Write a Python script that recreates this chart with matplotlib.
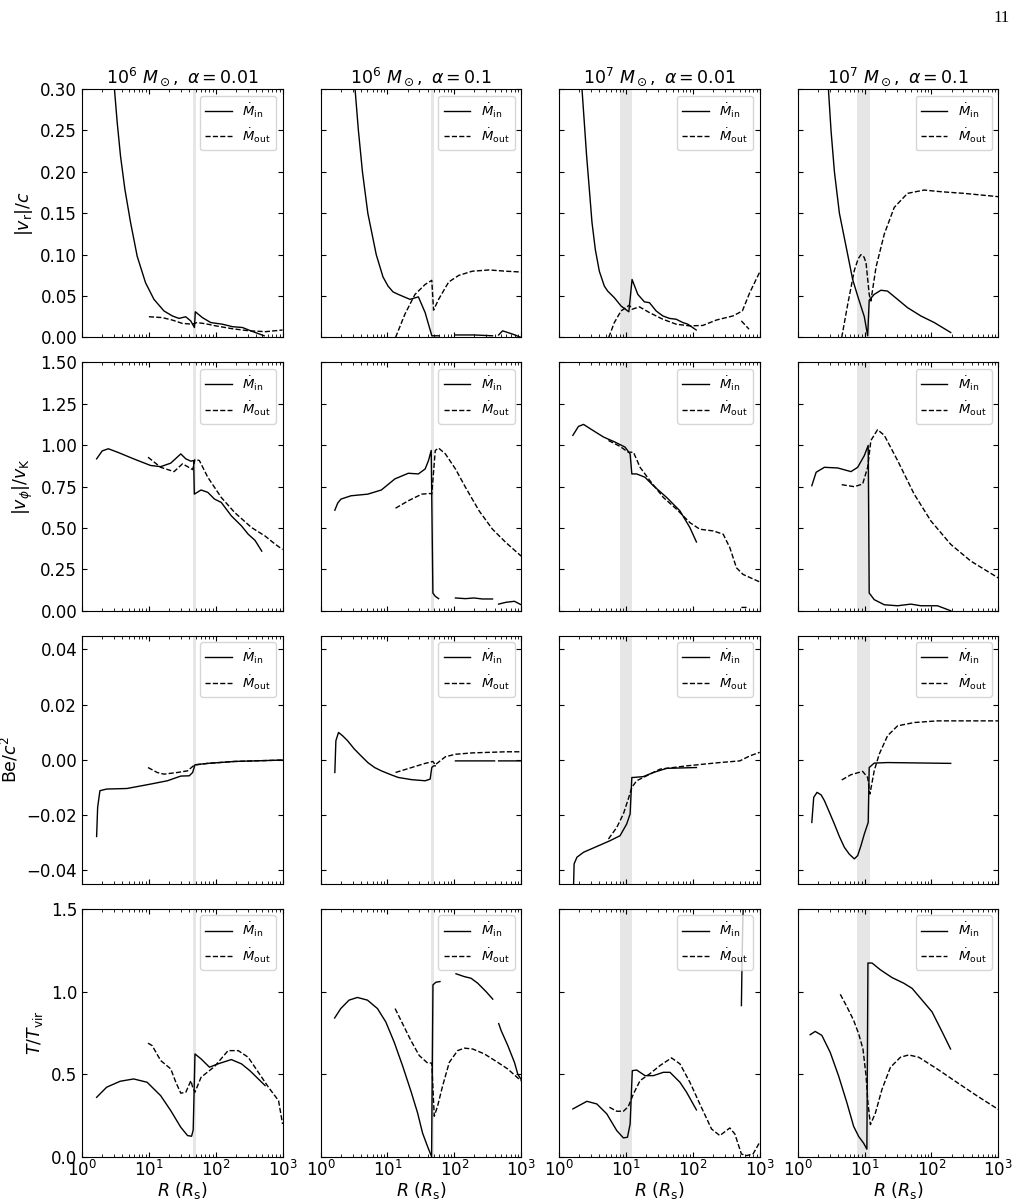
import numpy as np
import matplotlib
matplotlib.use("Agg")
import matplotlib.pyplot as plt

nan = np.nan

# columns: 1 = 1e6 Msun a=0.01, 2 = 1e6 a=0.1, 3 = 1e7 a=0.01, 4 = 1e7 a=0.1
titles = [r"$10^6\ M_\odot,\ \alpha=0.01$", r"$10^6\ M_\odot,\ \alpha=0.1$",
          r"$10^7\ M_\odot,\ \alpha=0.01$", r"$10^7\ M_\odot,\ \alpha=0.1$"]
ylabels = [r"$|v_{\rm r}|/c$", r"$|v_\phi|/v_{\rm K}$", r"${\rm Be}/c^2$", r"$T/T_{\rm vir}$"]

# shaded transition region per column
band_lo = [45.0, 44.5, 8.1, 7.7]
band_hi = [51.0, 49.5, 12.3, 11.9]

# ---- row 1: |v_r|/c ----
vr1_in_r = [3.05, 3.35, 3.76, 4.37, 5.31, 6.68, 8.91, 11.9, 16.8, 22.4, 28.2, 35.5, 42.2, 48.0, 49.5,
            63.1, 84.1, 126, 178, 251, 335, 531]
vr1_in = [0.30, 0.260, 0.219, 0.179, 0.139, 0.098, 0.066, 0.046, 0.032, 0.026, 0.023, 0.025, 0.020,
          0.012, 0.031, 0.024, 0.018, 0.016, 0.013, 0.012, 0.008, 0.002]
vr1_out_r = [10, 15.8, 22.4, 31.6, 44.7, 52.5, 70.8, 100, 178, 316, 562, 1000]
vr1_out = [0.025, 0.024, 0.021, 0.017, 0.016, 0.018, 0.0165, 0.014, 0.0105, 0.008, 0.007, 0.009]

vr2_in_r = [3.27, 3.67, 4.22, 4.63, 5.08, 6.79, 8.57, 10.2, 12.1, 14.5, 21.7, 29.0, 36.6, 46.1, 58.2, nan,
            104, 200, 373, nan, 460, 528, 748, 1000]
vr2_in = [0.30, 0.25, 0.20, 0.175, 0.15, 0.10, 0.073, 0.062, 0.055, 0.052, 0.046, 0.049, 0.030, 0.002,
          0.002, nan, 0.003, 0.003, 0.002, nan, 0.003, 0.008, 0.004, 0.0]
vr2_out_r = [13.2, 18.2, 25.8, 36.6, 46.0, 48.9, 58.2, 82.4, 117, 186, 332, 594, 1000]
vr2_out = [0.0, 0.028, 0.052, 0.064, 0.069, 0.033, 0.046, 0.067, 0.075, 0.080, 0.0815, 0.080, 0.079]

vr3_in_r = [2.19, 2.37, 2.57, 2.82, 3.09, 3.47, 3.98, 4.73, 5.31, 6.68, 8.41, 11.0, 12.3, 15.0, 18.8,
            22.4, 28.2, 35.5, 44.7, 56.2, 70.8, 84.1, 112]
vr3_in = [0.30, 0.260, 0.219, 0.179, 0.139, 0.106, 0.080, 0.062, 0.056, 0.048, 0.038, 0.031, 0.070,
          0.052, 0.043, 0.042, 0.032, 0.026, 0.023, 0.022, 0.018, 0.016, 0.009]
vr3_out_r = [5.50, 6.68, 8.41, 11.2, 12.3, 15.8, 22.4, 35.5, 56.2, 89.1, 141, 224, 398, 550, 708, 1000,
             nan, 531, 692]
vr3_out = [0.0, 0.018, 0.032, 0.039, 0.034, 0.037, 0.030, 0.022, 0.016, 0.014, 0.0145, 0.021, 0.026,
           0.032, 0.054, 0.079, nan, 0.020, 0.010]

vr4_in_r = [2.87, 3.14, 3.53, 4.19, 5.58, 6.62, 7.87, 9.89, 11.1, 11.7, 13.9, 17.5, 22.0, 31.1,
            43.8, 69.3, 110, 194]
vr4_in = [0.30, 0.25, 0.20, 0.15, 0.10, 0.07, 0.05, 0.025, 0.002, 0.045, 0.052, 0.057, 0.056, 0.046,
          0.036, 0.026, 0.018, 0.006]
vr4_out_r = [4.54, 5.58, 7.01, 8.0, 8.81, 9.8, 10.5, 11.7, 12.4, 14.8, 19.7, 27.7, 43.8, 77.7, 138, 307, 1000]
vr4_out = [0.0, 0.040, 0.081, 0.095, 0.100, 0.097, 0.090, 0.052, 0.044, 0.085, 0.125, 0.157, 0.174,
           0.178, 0.176, 0.174, 0.170]

# ---- row 2: |v_phi|/v_K ----
vp1_in_r = [1.65, 2.0, 2.47, 3.5, 5.91, 10.6, 15.0, 21.2, 30.0, 35.7, 42.5, 46.7, 47.8, 60.3, 76,
            95.9, 121, 171, 243, 306, 387, 488]
vp1_in = [0.917, 0.965, 0.978, 0.955, 0.917, 0.877, 0.870, 0.891, 0.947, 0.917, 0.903, 0.907, 0.704,
          0.729, 0.715, 0.674, 0.654, 0.573, 0.512, 0.462, 0.425, 0.360]
vp1_out_r = [9.7, 15.0, 23.8, 31.8, 37.9, 45.1, 48.9, 56.9, 76, 121, 192, 344, 548, 779, 1000]
vp1_out = [0.927, 0.866, 0.840, 0.887, 0.870, 0.852, 0.913, 0.907, 0.806, 0.684, 0.593, 0.502, 0.451,
           0.401, 0.370]

vp2_in_r = [1.63, 1.8, 2.01, 2.84, 5.08, 8.09, 12.9, 20.5, 29.0, 36.6, 41.1, 45.1, 47.8, 51.9, 58.2, nan,
            104, 147, 197, 263, 373, nan, 460, 594, 794, 1000]
vp2_in = [0.607, 0.650, 0.674, 0.694, 0.704, 0.729, 0.796, 0.830, 0.826, 0.856, 0.907, 0.968, 0.107,
          0.087, 0.073, nan, 0.077, 0.073, 0.077, 0.071, 0.071, nan, 0.040, 0.051, 0.057, 0.036]
vp2_out_r = [13.2, 20.5, 32.6, 43.5, 46.0, 51.9, 58.2, 73.5, 104, 147, 235, 373, 594, 1000]
vp2_out = [0.619, 0.664, 0.704, 0.708, 0.704, 0.968, 0.982, 0.947, 0.856, 0.745, 0.603, 0.492, 0.411,
           0.330]

vp3_in_r = [1.60, 1.94, 2.31, 3.07, 4.59, 6.85, 9.66, 11.5, 12.2, 14.4, 19.2, 25.6, 40.5, 64.0, 90.2, 113]
vp3_in = [1.059, 1.113, 1.125, 1.093, 1.049, 1.018, 0.988, 0.947, 0.826, 0.826, 0.806, 0.755, 0.684,
          0.603, 0.502, 0.415]
vp3_out_r = [5.45, 8.13, 10.8, 12.9, 16.2, 22.8, 36.1, 57.0, 90.2, 127, 201, 284, 357, 449, 564, 1000,
             nan, 532, 670]
vp3_out = [1.028, 0.992, 0.957, 0.957, 0.866, 0.785, 0.684, 0.613, 0.532, 0.492, 0.482, 0.462, 0.381,
           0.259, 0.219, 0.174, nan, 0.020, 0.020]

vp4_in_r = [1.62, 1.88, 2.50, 3.95, 6.25, 7.87, 9.89, 11.3, 11.7, 13.9, 19.7, 31.1, 49.2, 69.3, 123, 194]
vp4_in = [0.755, 0.836, 0.866, 0.862, 0.840, 0.866, 0.937, 0.998, 0.107, 0.067, 0.036, 0.030, 0.040,
          0.030, 0.030, 0.0]
vp4_out_r = [4.54, 7.01, 9.33, 11.1, 12.4, 15.6, 19.7, 31.1, 55.1, 97.7, 194, 387, 1000]
vp4_out = [0.761, 0.749, 0.765, 0.866, 1.028, 1.093, 1.059, 0.907, 0.704, 0.543, 0.401, 0.300, 0.198]

# ---- row 3: Be/c^2 ----
be1_in_r = [1.65, 1.71, 1.85, 2.33, 4.69, 10.6, 18.9, 30.0, 40.2, 45.1, 48.9, 76, 192, 1000]
be1_in = [-0.0278, -0.0172, -0.0112, -0.0106, -0.0104, -0.0088, -0.0076, -0.0059, -0.0058, -0.0046,
          -0.0018, -0.0013, -0.0006, -0.0001]
be1_out_r = [9.7, 13.3, 16.8, 26.7, 37.9, 47.8, 76, 192, 1000]
be1_out = [-0.0028, -0.0046, -0.0052, -0.0046, -0.0040, -0.0019, -0.0013, -0.0006, -0.0001]

be2_in_r = [1.63, 1.69, 1.85, 2.13, 2.53, 3.19, 4.03, 5.08, 6.41, 8.09, 11.5, 14.5, 23.0, 36.6, 43.5,
            46.0, 48.9, 51.9, nan, 104, 400, nan, 460, 1000]
be2_in = [-0.0046, 0.0069, 0.0099, 0.0087, 0.0069, 0.0039, 0.0014, -0.0010, -0.0028, -0.0040, -0.0055,
          -0.0064, -0.0072, -0.0076, -0.0070, -0.0028, -0.0022, -0.0022, nan, -0.0004, -0.0004, nan,
          -0.0004, -0.0004]
be2_out_r = [13.2, 23.0, 36.6, 47.8, 51.9, 73.5, 104, 186, 594, 1000]
be2_out = [-0.0046, -0.0028, -0.0013, -0.0006, -0.0018, 0.0011, 0.0020, 0.0025, 0.0029, 0.0029]

be3_in_r = [1.64, 1.67, 1.84, 2.31, 3.65, 5.77, 8.13, 10.2, 11.5, 12.2, 12.9, 18.1, 25.6, 40.5, 113]
be3_in = [-0.045, -0.0377, -0.0353, -0.0335, -0.0314, -0.0293, -0.0275, -0.0233, -0.0196, -0.0064,
          -0.0064, -0.0061, -0.0046, -0.0031, -0.0028]
be3_out_r = [5.45, 7.26, 9.12, 10.8, 12.2, 14.4, 20.3, 32.2, 80.4, 253, 503, 709, 1000]
be3_out = [-0.0287, -0.0245, -0.0196, -0.0142, -0.0100, -0.0076, -0.0058, -0.0034, -0.0022, -0.0010,
           -0.0004, 0.0014, 0.0027]

be4_in_r = [1.62, 1.73, 1.94, 2.23, 2.50, 2.97, 3.53, 4.19, 4.97, 5.90, 7.01, 7.87, 8.81, 9.89, 11.3,
            11.7, 13.9, 22.0, 194]
be4_in = [-0.0227, -0.0136, -0.0118, -0.0127, -0.0148, -0.0190, -0.0233, -0.0278, -0.0317, -0.0342,
          -0.0359, -0.0347, -0.0311, -0.0269, -0.0227, -0.0028, -0.0012, -0.0010, -0.0013]
be4_out_r = [4.54, 6.25, 9.33, 11.1, 12.0, 13.9, 16.5, 22.0, 31.1, 55.1, 123, 1000]
be4_out = [-0.0073, -0.0054, -0.0042, -0.0064, -0.0124, -0.0040, 0.0020, 0.0087, 0.0123, 0.0135,
           0.0141, 0.0141]

# ---- row 4: T/T_vir ----
t1_in_r = [1.65, 2.33, 3.71, 5.91, 9.40, 15.0, 21.2, 30.0, 37.9, 43.5, 46.0, 48.9, 60.3, 80.5, 108,
           171, 243, 324, 434, 548]
t1_in = [0.362, 0.423, 0.459, 0.473, 0.453, 0.372, 0.282, 0.181, 0.131, 0.127, 0.165, 0.624, 0.594,
         0.544, 0.564, 0.590, 0.564, 0.523, 0.473, 0.433]
t1_out_r = [9.7, 11.2, 15.0, 21.2, 25.3, 30.0, 35.7, 42.5, 45.1, 48.9, 60.3, 95.9, 153, 217, 306, 434,
            615, 871, 1000]
t1_out = [0.689, 0.674, 0.584, 0.534, 0.453, 0.387, 0.393, 0.463, 0.423, 0.393, 0.483, 0.548, 0.644,
          0.644, 0.604, 0.513, 0.423, 0.342, 0.201]

t2_in_r = [1.62, 2.0, 2.66, 3.55, 5.01, 7.08, 9.44, 12.6, 16.8, 22.4, 28.2, 33.5, 39.8, 45.7, 47.9,
           53.1, 61.0, nan, 106, 141, 178, 224, 299, 376, nan, 462, 501, 631, 794, 891, 1000]
t2_in = [0.841, 0.898, 0.949, 0.965, 0.949, 0.898, 0.817, 0.695, 0.553, 0.400, 0.268, 0.146, 0.065,
         0.004, 1.041, 1.057, 1.061, nan, 1.108, 1.091, 1.081, 1.051, 1.0, 0.955, nan, 0.807, 0.766,
         0.675, 0.573, 0.502, 0.470]
t2_out_r = [13.0, 16.8, 22.4, 29.9, 39.8, 46.0, 50.1, 56.2, 66.8, 84.1, 112, 141, 188, 282, 447, 631, 1000]
t2_out = [0.898, 0.807, 0.705, 0.614, 0.569, 0.569, 0.248, 0.309, 0.431, 0.573, 0.644, 0.659, 0.654,
          0.624, 0.573, 0.533, 0.461]

t3_in_r = [1.60, 2.59, 3.65, 5.15, 7.26, 9.12, 10.5, 11.5, 12.4, 14.4, 19.2, 25.6, 36.1, 45.4, 64.0,
           80.4, 113, nan, 532, 545, 560, 580]
t3_in = [0.292, 0.338, 0.322, 0.262, 0.161, 0.117, 0.121, 0.201, 0.523, 0.527, 0.493, 0.493, 0.513,
         0.513, 0.453, 0.393, 0.286, nan, 0.916, 1.20, 1.45, 1.60]
t3_out_r = [5.64, 7.26, 9.12, 10.8, 12.9, 16.2, 22.8, 32.2, 47.9, 64.0, 90.2, 127, 190, 253, 357, 424,
            532, 632, 795, 1000]
t3_out = [0.302, 0.278, 0.278, 0.306, 0.383, 0.463, 0.505, 0.554, 0.600, 0.564, 0.453, 0.322, 0.171,
          0.131, 0.177, 0.141, 0.020, 0.010, 0.020, 0.091]

t4_in_r = [1.53, 1.82, 2.29, 3.05, 4.07, 5.43, 6.84, 8.13, 9.66, 10.8, 11.2, 12.9, 17.2, 25.7, 38.5,
           51.3, 72.4, 102, 145, 193]
t4_in = [0.740, 0.760, 0.736, 0.634, 0.492, 0.329, 0.187, 0.126, 0.085, 0.049, 1.173, 1.173, 1.132,
         1.085, 1.051, 1.020, 0.949, 0.878, 0.756, 0.654]
t4_out_r = [4.32, 5.43, 6.84, 8.13, 9.44, 10.5, 11.2, 12.2, 14.5, 18.2, 24.3, 34.3, 45.7, 64.6, 122,
            243, 484, 1000]
t4_out = [0.984, 0.909, 0.827, 0.746, 0.654, 0.492, 0.329, 0.197, 0.268, 0.411, 0.543, 0.604, 0.618,
          0.604, 0.533, 0.451, 0.370, 0.289]

rows = [
    [(vr1_in_r, vr1_in, vr1_out_r, vr1_out), (vr2_in_r, vr2_in, vr2_out_r, vr2_out),
     (vr3_in_r, vr3_in, vr3_out_r, vr3_out), (vr4_in_r, vr4_in, vr4_out_r, vr4_out)],
    [(vp1_in_r, vp1_in, vp1_out_r, vp1_out), (vp2_in_r, vp2_in, vp2_out_r, vp2_out),
     (vp3_in_r, vp3_in, vp3_out_r, vp3_out), (vp4_in_r, vp4_in, vp4_out_r, vp4_out)],
    [(be1_in_r, be1_in, be1_out_r, be1_out), (be2_in_r, be2_in, be2_out_r, be2_out),
     (be3_in_r, be3_in, be3_out_r, be3_out), (be4_in_r, be4_in, be4_out_r, be4_out)],
    [(t1_in_r, t1_in, t1_out_r, t1_out), (t2_in_r, t2_in, t2_out_r, t2_out),
     (t3_in_r, t3_in, t3_out_r, t3_out), (t4_in_r, t4_in, t4_out_r, t4_out)],
]
ylims = [(0, 0.30), (0, 1.5), (-0.045, 0.045), (0, 1.5)]
yticks = [np.arange(0, 0.301, 0.05), np.arange(0, 1.501, 0.25), [-0.04, -0.02, 0.0, 0.02, 0.04], [0, 0.5, 1.0, 1.5]]
yfmt = ["%.2f", "%.2f", "%.2f", "%.1f"]


def make_fmt(f):
    return plt.FuncFormatter(lambda v, p: (f % v).replace("-", "\u2212"))


fig, axes = plt.subplots(4, 4, figsize=(10.26, 12.03), dpi=100, sharex=True, sharey="row")
fig.subplots_adjust(left=0.080, right=0.973, top=0.926, bottom=0.038, wspace=0.19, hspace=0.1)

for i in range(4):
    for j in range(4):
        ax = axes[i, j]
        rin, yin, rout, yout = rows[i][j]
        ax.axvspan(band_lo[j], band_hi[j], color="#e6e6e6", lw=0, zorder=0)
        ax.plot(rin, yin, "k-", lw=1.0, label=r"$\dot{M}_{\rm in}$")
        ax.plot(rout, yout, "k--", lw=1.0, label=r"$\dot{M}_{\rm out}$")
        ax.set_xscale("log")
        ax.set_xlim(1, 1000)
        ax.set_ylim(*ylims[i])
        ax.set_yticks(yticks[i])
        ax.yaxis.set_major_formatter(make_fmt(yfmt[i]))
        ax.tick_params(which="both", direction="in", top=True, right=True, labelsize=12)
        ax.tick_params(axis="x", pad=2)
        ax.legend(loc="upper right", fontsize=9.5)
        if i == 0:
            ax.set_title(titles[j], fontsize=12.5, pad=4)
        if j == 0:
            ax.set_ylabel(ylabels[i], fontsize=12.5)
        if i == 3:
            ax.set_xlabel(r"$R\ (R_{\rm s})$", fontsize=12.5, labelpad=0)

fig.text(0.984, 0.985, "11", ha="right", va="center", fontsize=12, family="Liberation Serif")
fig.savefig("out.png", dpi=100)
